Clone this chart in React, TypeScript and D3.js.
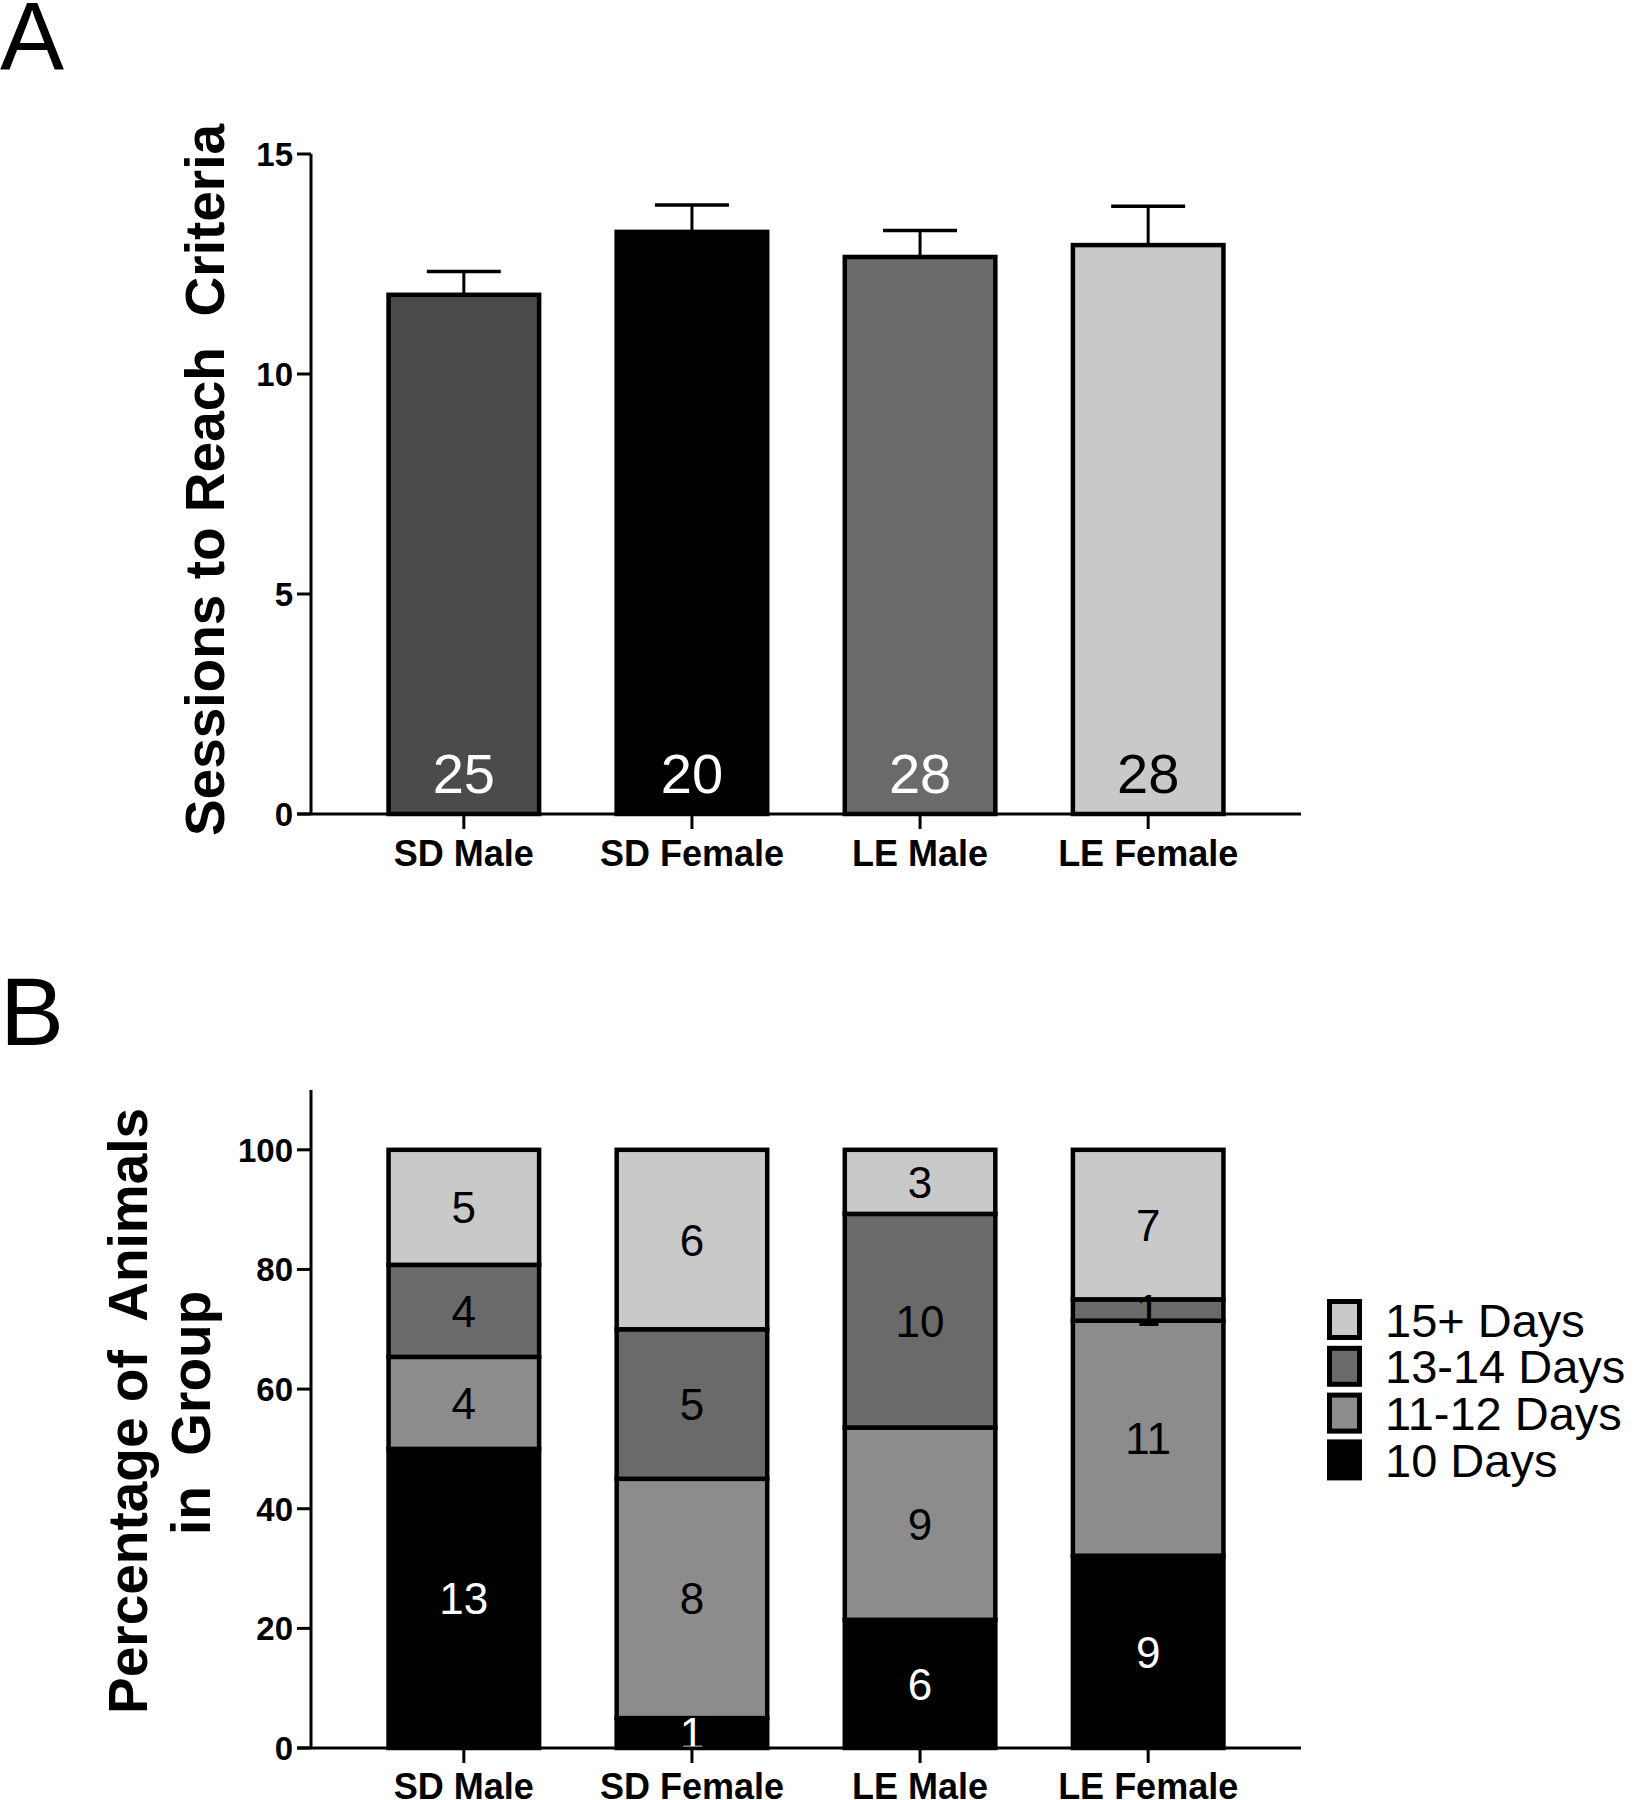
import React from 'react';
import * as d3 from 'd3';

// ---------- Panel A data ----------
const groups = ['SD Male', 'SD Female', 'LE Male', 'LE Female'];
const meanSessions = [11.8, 13.23, 12.66, 12.93];
const semSessions = [0.53, 0.61, 0.6, 0.88];
const groupN = [25, 20, 28, 28];
const groupFills = ['#4b4b4b', '#000000', '#6a6a6a', '#c9c9c9'];
const groupNColors = ['#ffffff', '#ffffff', '#ffffff', '#000000'];
const yTicksA = [0, 5, 10, 15];

// ---------- Panel B data ----------
const dayBins = ['10 Days', '11-12 Days', '13-14 Days', '15+ Days'];
const count10 = [13, 1, 6, 9];
const count11to12 = [4, 8, 9, 11];
const count13to14 = [4, 5, 10, 1];
const count15plus = [5, 6, 3, 7];
const binFills = ['#000000', '#8c8c8c', '#6a6a6a', '#c9c9c9'];
const binTextColors = ['#ffffff', '#000000', '#000000', '#000000'];
const yTicksB = [0, 20, 40, 60, 80, 100];

const FONT = 'Liberation Sans, Arial, Helvetica, sans-serif';

export default function App() {
  const W = 1634;
  const H = 1800;

  const x = d3
    .scaleBand<string>()
    .domain(groups)
    .range([311, 1301])
    .paddingInner(0.34)
    .paddingOuter(0.34);
  const bw = x.bandwidth();

  const yA = d3.scaleLinear().domain([0, 15]).range([814, 154]);
  const yB = d3.scaleLinear().domain([0, 110]).range([1748, 1090]);

  const countsBy = [count10, count11to12, count13to14, count15plus];
  const rows = groups.map((g, i) => {
    const total = countsBy.reduce((s, arr) => s + arr[i], 0);
    const r: any = { group: g };
    dayBins.forEach((k, j) => {
      r[k] = (countsBy[j][i] / total) * 100;
    });
    return r;
  });
  const stacked = d3.stack<any>().keys(dayBins)(rows);

  const axisStroke = 3;
  const tickLen = 14;

  return (
    <svg
      width={W}
      height={H}
      style={{ position: 'absolute', left: 0, top: 0, display: 'block', background: '#fff' }}
      fontFamily={FONT}
    >
      <rect x={0} y={0} width={W} height={H} fill="#fff" />

      {/* ================= Panel A ================= */}
      <text x={0} y={69} fontSize={96} fill="#000">A</text>

      {/* y title */}
      <text
        transform={`translate(224, ${(yA(0) + yA(15)) / 2 - 4}) rotate(-90)`}
        textAnchor="middle"
        fontSize={55}
        fontWeight="bold"
        xmlSpace="preserve"
      >
        {'Sessions to Reach  Criteria'}
      </text>

      {/* bars */}
      {groups.map((g, i) => (
        <g key={g}>
          <line
            x1={(x(g) as number) + bw / 2}
            x2={(x(g) as number) + bw / 2}
            y1={yA(meanSessions[i])}
            y2={yA(meanSessions[i] + semSessions[i])}
            stroke="#000"
            strokeWidth={3}
          />
          <line
            x1={(x(g) as number) + bw / 2 - 37}
            x2={(x(g) as number) + bw / 2 + 37}
            y1={yA(meanSessions[i] + semSessions[i])}
            y2={yA(meanSessions[i] + semSessions[i])}
            stroke="#000"
            strokeWidth={3.5}
          />
          <rect
            x={x(g)}
            y={yA(meanSessions[i])}
            width={bw}
            height={yA(0) - yA(meanSessions[i])}
            fill={groupFills[i]}
            stroke="#000"
            strokeWidth={4.5}
          />
          <text
            x={(x(g) as number) + bw / 2}
            y={yA(0) - 21}
            textAnchor="middle"
            fontSize={56}
            fill={groupNColors[i]}
          >
            {groupN[i]}
          </text>
        </g>
      ))}

      {/* axes A */}
      <line x1={311} x2={311} y1={yA(15)} y2={yA(0)} stroke="#000" strokeWidth={axisStroke} />
      <line x1={311 - tickLen} x2={1301} y1={yA(0)} y2={yA(0)} stroke="#000" strokeWidth={axisStroke} />
      {yTicksA.map((t) => (
        <g key={t}>
          <line x1={311 - tickLen} x2={311} y1={yA(t)} y2={yA(t)} stroke="#000" strokeWidth={axisStroke} />
          <text x={293} y={yA(t) + 12} textAnchor="end" fontSize={33} fontWeight="bold">
            {t}
          </text>
        </g>
      ))}
      {groups.map((g) => (
        <g key={g}>
          <line
            x1={(x(g) as number) + bw / 2}
            x2={(x(g) as number) + bw / 2}
            y1={yA(0)}
            y2={yA(0) + 15}
            stroke="#000"
            strokeWidth={axisStroke}
          />
          <text
            x={(x(g) as number) + bw / 2}
            y={yA(0) + 52}
            textAnchor="middle"
            fontSize={36}
            fontWeight="bold"
          >
            {g}
          </text>
        </g>
      ))}

      {/* ================= Panel B ================= */}
      <text x={0} y={1045} fontSize={96} fill="#000">B</text>

      <text
        transform={`translate(147, ${(yB(0) + yB(100)) / 2 - 38}) rotate(-90)`}
        textAnchor="middle"
        fontSize={55}
        fontWeight="bold"
        xmlSpace="preserve"
      >
        {'Percentage of  Animals'}
      </text>
      <text
        transform={`translate(210, ${(yB(0) + yB(100)) / 2 - 36}) rotate(-90)`}
        textAnchor="middle"
        fontSize={55}
        fontWeight="bold"
        xmlSpace="preserve"
      >
        {'in  Group'}
      </text>

      {stacked.map((layer, j) => (
        <g key={layer.key}>
          {layer.map((d, i) => {
            const g = groups[i];
            const y0 = yB(d[0]);
            const y1 = yB(d[1]);
            return (
              <rect
                key={g}
                x={x(g)}
                y={y1}
                width={bw}
                height={y0 - y1}
                fill={binFills[j]}
                stroke="#000"
                strokeWidth={4.5}
              />
            );
          })}
        </g>
      ))}
      {stacked.map((layer, j) => (
        <g key={'lab' + layer.key}>
          {layer.map((d, i) => {
            const g = groups[i];
            const cy = (yB(d[0]) + yB(d[1])) / 2;
            return (
              <text
                key={g}
                x={(x(g) as number) + bw / 2}
                y={cy + 16}
                textAnchor="middle"
                fontSize={44}
                fill={binTextColors[j]}
              >
                {countsBy[j][i]}
              </text>
            );
          })}
        </g>
      ))}

      {/* axes B */}
      <line x1={311} x2={311} y1={yB(110)} y2={yB(0)} stroke="#000" strokeWidth={axisStroke} />
      <line x1={311 - tickLen} x2={1301} y1={yB(0)} y2={yB(0)} stroke="#000" strokeWidth={axisStroke} />
      {yTicksB.map((t) => (
        <g key={t}>
          <line x1={311 - tickLen} x2={311} y1={yB(t)} y2={yB(t)} stroke="#000" strokeWidth={axisStroke} />
          <text x={293} y={yB(t) + 12} textAnchor="end" fontSize={33} fontWeight="bold">
            {t}
          </text>
        </g>
      ))}
      {groups.map((g) => (
        <g key={g}>
          <line
            x1={(x(g) as number) + bw / 2}
            x2={(x(g) as number) + bw / 2}
            y1={yB(0)}
            y2={yB(0) + 15}
            stroke="#000"
            strokeWidth={axisStroke}
          />
          <text
            x={(x(g) as number) + bw / 2}
            y={yB(0) + 51}
            textAnchor="middle"
            fontSize={36}
            fontWeight="bold"
          >
            {g}
          </text>
        </g>
      ))}

      {/* legend */}
      {[...dayBins].reverse().map((k, idx) => {
        const j = dayBins.indexOf(k);
        const top = 1301.5 + idx * 46.8;
        return (
          <g key={k}>
            <rect
              x={1329.5}
              y={top}
              width={30}
              height={36}
              fill={binFills[j]}
              stroke="#000"
              strokeWidth={5}
            />
            <text x={1385} y={top + 35} fontSize={47} fill="#000">
              {k}
            </text>
          </g>
        );
      })}
    </svg>
  );
}
